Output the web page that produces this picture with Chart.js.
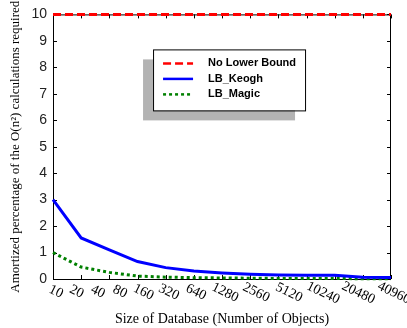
<!DOCTYPE html>
<html>
<head>
<meta charset="utf-8">
<script src="https://cdn.jsdelivr.net/npm/chart.js@4.4.1/dist/chart.umd.min.js"></script>
<style>
  html, body { margin: 0; padding: 0; background: #fff; }
  #wrap { width: 407px; height: 328px; }
</style>
</head>
<body>
<div id="wrap"><canvas id="lbChart" width="407" height="328"></canvas></div>
<script>
// database sizes (x categories)
const sizes = ['10', '20', '40', '80', '160', '320', '640', '1280', '2560', '5120', '10240', '20480', '40960'];

// amortized percentage of O(n^2) calculations
const noLowerBound = [10, 10, 10, 10, 10, 10, 10, 10, 10, 10, 10, 10, 10];
const lbKeogh = [3.0, 1.55, 1.1, 0.66, 0.43, 0.3, 0.23, 0.18, 0.15, 0.14, 0.14, 0.07, 0.06];
const lbMagic = [1.0, 0.45, 0.25, 0.11, 0.07, 0.05, 0.04, 0.03, 0.02, 0.02, 0.02, 0.01, 0.01];

const yTicks = [0, 1, 2, 3, 4, 5, 6, 7, 8, 9, 10];

// frame + inside tick marks, under the lines
const framePlugin = {
    id: 'frame',
    beforeDatasetsDraw: function(chart) {
        const ctx = chart.ctx;
        const a = chart.chartArea;
        const xs = chart.scales.x;
        const ys = chart.scales.y;
        ctx.save();
        ctx.strokeStyle = '#000';
        ctx.lineWidth = 1;
        ctx.strokeRect(a.left + 0.5, a.top + 0.5, a.right - a.left - 1, a.bottom - a.top);

        ctx.beginPath();
        yTicks.forEach(function(v) {
            const y = Math.round(ys.getPixelForValue(v)) + 0.5;
            ctx.moveTo(a.left, y); ctx.lineTo(a.left + 4, y);
            ctx.moveTo(a.right, y); ctx.lineTo(a.right - 4, y);
        });
        sizes.forEach(function(s, i) {
            const x = Math.round(xs.getPixelForValue(i)) + 0.5;
            ctx.moveTo(x, a.bottom); ctx.lineTo(x, a.bottom - 4);
            ctx.moveTo(x, a.top); ctx.lineTo(x, a.top + 4);
        });
        ctx.stroke();

        // x labels, turned clockwise; the original squeezes the middle ones to the left
        ctx.fillStyle = '#000';
        ctx.font = '14px "Liberation Serif"';
        ctx.textAlign = 'center';
        ctx.textBaseline = 'middle';
        const n = sizes.length - 1;
        sizes.forEach(function(s, i) {
            const x = xs.getPixelForValue(i) + 3 - 29 * Math.sin(Math.PI * i / n);
            ctx.save();
            ctx.translate(x, a.bottom + 12 + s.length * 0.4);
            ctx.rotate(0.45);
            ctx.fillText(s, 0, 0);
            ctx.restore();
        });
        ctx.restore();
    },
    // legend box with grey shadow
    afterDraw: function(chart) {
        const ctx = chart.ctx;
        const a = chart.chartArea;
        const w = a.right - a.left;
        const bx = a.left + w * 0.296, by = a.top + 35, bw = 152, bh = 61;
        ctx.save();
        ctx.fillStyle = '#b3b3b3';
        ctx.fillRect(bx - 10, by + 10, bw, bh);
        ctx.fillStyle = '#fff';
        ctx.fillRect(bx, by, bw, bh);
        ctx.strokeStyle = '#000';
        ctx.lineWidth = 1;
        ctx.strokeRect(bx + 0.5, by + 0.5, bw, bh);
        ctx.font = 'bold 11px "Liberation Sans"';
        ctx.textAlign = 'left';
        ctx.textBaseline = 'middle';
        chart.data.datasets.forEach(function(ds, i) {
            const y = by + 14 + i * 15.5;
            ctx.beginPath();
            ctx.strokeStyle = ds.borderColor;
            ctx.lineWidth = 2.5;
            ctx.setLineDash(ds.borderDash || []);
            ctx.moveTo(bx + 10, y);
            ctx.lineTo(bx + 40, y);
            ctx.stroke();
            ctx.setLineDash([]);
            ctx.fillStyle = '#000';
            ctx.fillText(ds.label, bx + 55, y);
        });
        ctx.restore();
    }
};

new Chart(document.getElementById('lbChart'), {
    type: 'line',
    data: {
        labels: sizes,
        datasets: [{
            label: 'No Lower Bound',
            data: noLowerBound,
            borderColor: '#ff0000',
            borderWidth: 3,
            borderDash: [8, 4]
        }, {
            label: 'LB_Keogh',
            data: lbKeogh,
            borderColor: '#0000ff',
            borderWidth: 3
        }, {
            label: 'LB_Magic',
            data: lbMagic,
            borderColor: '#008000',
            borderWidth: 3,
            borderDash: [3, 3]
        }]
    },
    options: {
        responsive: false,
        animation: false,
        clip: false,
        elements: {
            point: { radius: 0 },
            line: { tension: 0, fill: false }
        },
        layout: { padding: { top: 14, right: 16, left: 0, bottom: 0 } },
        plugins: {
            legend: { display: false },
            tooltip: { enabled: false }
        },
        scales: {
            x: {
                type: 'category',
                offset: false,
                grid: { display: false },
                border: { display: false },
                ticks: { display: false },
                title: {
                    display: true,
                    text: 'Size of Database (Number of Objects)',
                    color: '#000',
                    font: { family: 'Liberation Serif', size: 14 },
                    padding: { top: 0, bottom: 0 }
                },
                afterFit: function(scale) { scale.height = 49; }
            },
            y: {
                min: 0,
                max: 10,
                grid: { display: false, drawTicks: false },
                border: { display: false },
                ticks: {
                    stepSize: 1,
                    padding: 6,
                    color: '#222',
                    font: { family: 'Liberation Sans', size: 14 }
                },
                title: {
                    display: true,
                    text: 'Amortized percentage of the O(n²) calculations required',
                    color: '#000',
                    font: { family: 'Liberation Serif', size: 13 },
                    padding: { top: 8, bottom: 0 }
                },
                afterFit: function(scale) { scale.width = 53; }
            }
        }
    },
    plugins: [framePlugin]
});
</script>
</body>
</html>
